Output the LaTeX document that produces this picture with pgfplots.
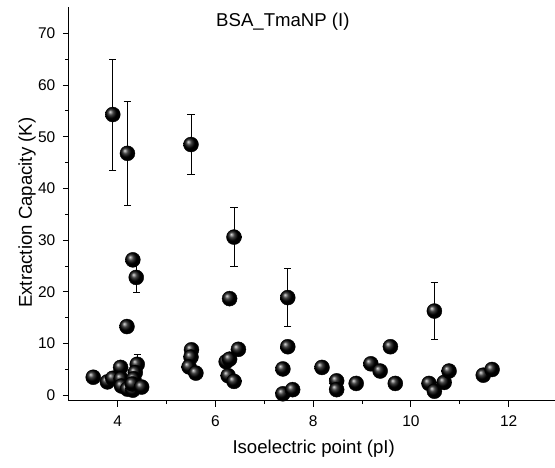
\documentclass[border=0pt]{standalone}
\usepackage{pgfplots}
\pgfplotsset{compat=1.18}
\usepackage{fontspec}
\setmainfont{Liberation Sans}
\begin{document}
\begin{tikzpicture}
\begin{axis}[
  at={(0,0)}, anchor=south west,
  scale only axis, width=488.75bp, height=393bp,
  xmin=3, xmax=13, ymin=-1, ymax=75,
  axis x line*=bottom, axis y line*=left,
  axis line style={line width=1.1bp, -},
  xtick={4,6,8,10,12}, minor x tick num=1,
  ytick={0,10,20,30,40,50,60,70}, minor y tick num=1,
  tick align=outside,
  major tick length=6bp, minor tick length=3.5bp,
  tick style={line width=1.1bp, black},
  /pgf/number format/assume math mode=true,
  ticklabel style={font=\fontsize{15.5bp}{18bp}\selectfont},
  xticklabel style={yshift=-5.5bp},
  yticklabel style={xshift=-4bp},
  label style={font=\fontsize{18.6bp}{22bp}\selectfont},
  xlabel={Isoelectric point (pI)},
  ylabel={Extraction Capacity (K)},
  xlabel style={at={(axis description cs:0.501,-0.1336)}, anchor=base},
  ylabel style={at={(axis description cs:-0.0753,0.478)}, anchor=base},
  clip=false,
]
\addplot[only marks, mark=ball, mark size=7.5bp, mark options={ball color=black},
  error bars/.cd, y dir=both, y explicit,
  error bar style={line width=0.8bp, black},
  error mark options={rotate=90, mark size=3.7bp, line width=0.8bp, black}]
coordinates {
(3.50,3.5) +- (0,0)
(3.79,2.6) +- (0,0)
(3.90,3.3) +- (0,0)
(4.06,5.4) +- (0,0)
(4.07,3.2) +- (0,0)
(4.08,1.8) +- (0,0)
(4.20,1.2) +- (0,0)
(4.31,1.0) +- (0,0)
(4.40,6.0) +- (0,2.0)
(4.36,4.4) +- (0,0)
(4.33,3.2) +- (0,0)
(4.30,2.2) +- (0,0)
(4.49,1.6) +- (0,0)
(4.31,26.2) +- (0,0)
(4.38,22.8) +- (0,2.9)
(4.19,13.3) +- (0,0)
(3.90,54.3) +- (0,10.75)
(4.20,46.8) +- (0,10.1)
(5.50,48.5) +- (0,5.75)
(5.51,8.8) +- (0,0)
(5.50,7.4) +- (0,0)
(5.46,5.5) +- (0,0)
(5.60,4.3) +- (0,0)
(6.38,30.6) +- (0,5.7)
(6.29,18.7) +- (0,0)
(6.22,6.5) +- (0,0)
(6.29,7.0) +- (0,0)
(6.47,8.9) +- (0,0)
(6.26,3.8) +- (0,0)
(6.38,2.7) +- (0,0)
(7.48,18.9) +- (0,5.6)
(7.48,9.4) +- (0,0)
(7.38,5.1) +- (0,0)
(7.38,0.3) +- (0,0)
(7.58,1.1) +- (0,0)
(8.18,5.4) +- (0,0)
(8.48,2.8) +- (0,0)
(8.48,1.1) +- (0,0)
(8.88,2.3) +- (0,0)
(9.18,6.1) +- (0,0)
(9.37,4.7) +- (0,0)
(9.58,9.4) +- (0,0)
(9.68,2.3) +- (0,0)
(10.48,16.3) +- (0,5.5)
(10.37,2.3) +- (0,0)
(10.48,0.8) +- (0,0)
(10.68,2.5) +- (0,0)
(10.78,4.7) +- (0,0)
(11.48,3.9) +- (0,0)
(11.66,5.0) +- (0,0)
};
\node[anchor=base, font=\fontsize{18.6bp}{22bp}\selectfont] at (axis cs:7.38,71.4) {BSA\_TmaNP (I)};
\end{axis}
\pgfresetboundingbox
\path[use as bounding box] (-68.8bp,-67.5bp) rectangle (486.2bp,400.5bp);
\end{tikzpicture}
\end{document}
